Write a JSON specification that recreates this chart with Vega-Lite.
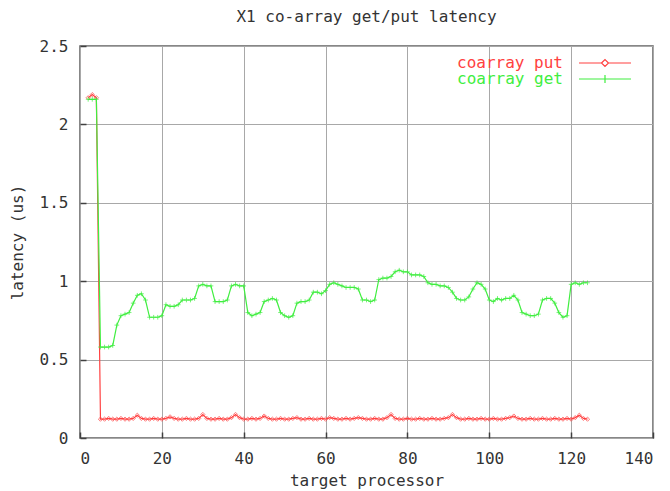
{
  "$schema": "https://vega.github.io/schema/vega-lite/v6.json",
  "width": 573,
  "height": 392,
  "autosize": {"type": "none"},
  "padding": {"left": 80, "top": 46, "right": 17, "bottom": 53},
  "background": "white",
  "title": {
    "text": "X1 co-array get/put latency",
    "font": "DejaVu Sans Mono",
    "fontSize": 16,
    "fontWeight": "normal",
    "color": "#333333",
    "anchor": "middle",
    "offset": 13
  },
  "config": {
    "view": {"stroke": "#606060", "strokeWidth": 1.5},
    "axis": {
      "labelFont": "DejaVu Sans Mono",
      "labelFontSize": 16,
      "labelColor": "#333333",
      "titleFont": "DejaVu Sans Mono",
      "titleFontSize": 16,
      "titleFontWeight": "normal",
      "titleColor": "#333333",
      "domain": false,
      "grid": true,
      "gridColor": "#a8a8a8",
      "gridWidth": 1,
      "tickColor": "#404040",
      "tickWidth": 1.5,
      "tickSize": -6
    }
  },
  "data": {
    "values": [
      {"x": 2, "put": 2.17, "get": 2.16},
      {"x": 3, "put": 2.19, "get": 2.16},
      {"x": 4, "put": 2.17, "get": 2.16},
      {"x": 5, "put": 0.12, "get": 0.58},
      {"x": 6, "put": 0.12, "get": 0.58},
      {"x": 7, "put": 0.125, "get": 0.58},
      {"x": 8, "put": 0.12, "get": 0.59},
      {"x": 9, "put": 0.12, "get": 0.72},
      {"x": 10, "put": 0.125, "get": 0.78},
      {"x": 11, "put": 0.12, "get": 0.79},
      {"x": 12, "put": 0.12, "get": 0.8},
      {"x": 13, "put": 0.125, "get": 0.86},
      {"x": 14, "put": 0.145, "get": 0.91},
      {"x": 15, "put": 0.125, "get": 0.92},
      {"x": 16, "put": 0.12, "get": 0.88},
      {"x": 17, "put": 0.12, "get": 0.77},
      {"x": 18, "put": 0.125, "get": 0.77},
      {"x": 19, "put": 0.12, "get": 0.77},
      {"x": 20, "put": 0.12, "get": 0.78},
      {"x": 21, "put": 0.125, "get": 0.85},
      {"x": 22, "put": 0.135, "get": 0.84},
      {"x": 23, "put": 0.125, "get": 0.84},
      {"x": 24, "put": 0.12, "get": 0.85},
      {"x": 25, "put": 0.12, "get": 0.88},
      {"x": 26, "put": 0.125, "get": 0.88},
      {"x": 27, "put": 0.12, "get": 0.88},
      {"x": 28, "put": 0.12, "get": 0.89},
      {"x": 29, "put": 0.125, "get": 0.97},
      {"x": 30, "put": 0.15, "get": 0.98},
      {"x": 31, "put": 0.125, "get": 0.97},
      {"x": 32, "put": 0.12, "get": 0.97},
      {"x": 33, "put": 0.12, "get": 0.87},
      {"x": 34, "put": 0.125, "get": 0.87},
      {"x": 35, "put": 0.12, "get": 0.87},
      {"x": 36, "put": 0.12, "get": 0.88},
      {"x": 37, "put": 0.13, "get": 0.97},
      {"x": 38, "put": 0.15, "get": 0.98},
      {"x": 39, "put": 0.13, "get": 0.97},
      {"x": 40, "put": 0.12, "get": 0.97},
      {"x": 41, "put": 0.12, "get": 0.8},
      {"x": 42, "put": 0.125, "get": 0.78},
      {"x": 43, "put": 0.12, "get": 0.79},
      {"x": 44, "put": 0.125, "get": 0.8},
      {"x": 45, "put": 0.14, "get": 0.87},
      {"x": 46, "put": 0.125, "get": 0.88},
      {"x": 47, "put": 0.12, "get": 0.89},
      {"x": 48, "put": 0.12, "get": 0.88},
      {"x": 49, "put": 0.125, "get": 0.8},
      {"x": 50, "put": 0.12, "get": 0.78},
      {"x": 51, "put": 0.12, "get": 0.77},
      {"x": 52, "put": 0.125, "get": 0.78},
      {"x": 53, "put": 0.13, "get": 0.86},
      {"x": 54, "put": 0.12, "get": 0.87},
      {"x": 55, "put": 0.12, "get": 0.87},
      {"x": 56, "put": 0.125, "get": 0.88},
      {"x": 57, "put": 0.12, "get": 0.93},
      {"x": 58, "put": 0.12, "get": 0.93},
      {"x": 59, "put": 0.125, "get": 0.92},
      {"x": 60, "put": 0.12, "get": 0.94},
      {"x": 61, "put": 0.13, "get": 0.98},
      {"x": 62, "put": 0.125, "get": 0.99},
      {"x": 63, "put": 0.12, "get": 0.98},
      {"x": 64, "put": 0.12, "get": 0.97},
      {"x": 65, "put": 0.125, "get": 0.96},
      {"x": 66, "put": 0.12, "get": 0.96},
      {"x": 67, "put": 0.125, "get": 0.96},
      {"x": 68, "put": 0.13, "get": 0.95},
      {"x": 69, "put": 0.125, "get": 0.88},
      {"x": 70, "put": 0.12, "get": 0.88},
      {"x": 71, "put": 0.12, "get": 0.87},
      {"x": 72, "put": 0.125, "get": 0.88},
      {"x": 73, "put": 0.12, "get": 1.01},
      {"x": 74, "put": 0.12, "get": 1.02},
      {"x": 75, "put": 0.13, "get": 1.02},
      {"x": 76, "put": 0.15, "get": 1.03},
      {"x": 77, "put": 0.125, "get": 1.06},
      {"x": 78, "put": 0.12, "get": 1.07},
      {"x": 79, "put": 0.12, "get": 1.06},
      {"x": 80, "put": 0.125, "get": 1.06},
      {"x": 81, "put": 0.12, "get": 1.04},
      {"x": 82, "put": 0.12, "get": 1.04},
      {"x": 83, "put": 0.125, "get": 1.04},
      {"x": 84, "put": 0.12, "get": 1.03},
      {"x": 85, "put": 0.12, "get": 0.99},
      {"x": 86, "put": 0.125, "get": 0.98},
      {"x": 87, "put": 0.12, "get": 0.98},
      {"x": 88, "put": 0.12, "get": 0.97},
      {"x": 89, "put": 0.125, "get": 0.97},
      {"x": 90, "put": 0.13, "get": 0.96},
      {"x": 91, "put": 0.15, "get": 0.93},
      {"x": 92, "put": 0.13, "get": 0.89},
      {"x": 93, "put": 0.12, "get": 0.88},
      {"x": 94, "put": 0.12, "get": 0.88},
      {"x": 95, "put": 0.125, "get": 0.9},
      {"x": 96, "put": 0.12, "get": 0.95},
      {"x": 97, "put": 0.12, "get": 0.99},
      {"x": 98, "put": 0.125, "get": 0.98},
      {"x": 99, "put": 0.12, "get": 0.95},
      {"x": 100, "put": 0.12, "get": 0.88},
      {"x": 101, "put": 0.125, "get": 0.87},
      {"x": 102, "put": 0.12, "get": 0.89},
      {"x": 103, "put": 0.12, "get": 0.88},
      {"x": 104, "put": 0.125, "get": 0.89},
      {"x": 105, "put": 0.13, "get": 0.89},
      {"x": 106, "put": 0.14, "get": 0.91},
      {"x": 107, "put": 0.125, "get": 0.88},
      {"x": 108, "put": 0.12, "get": 0.8},
      {"x": 109, "put": 0.12, "get": 0.79},
      {"x": 110, "put": 0.125, "get": 0.78},
      {"x": 111, "put": 0.12, "get": 0.78},
      {"x": 112, "put": 0.12, "get": 0.79},
      {"x": 113, "put": 0.125, "get": 0.88},
      {"x": 114, "put": 0.12, "get": 0.89},
      {"x": 115, "put": 0.12, "get": 0.89},
      {"x": 116, "put": 0.125, "get": 0.86},
      {"x": 117, "put": 0.12, "get": 0.8},
      {"x": 118, "put": 0.12, "get": 0.77},
      {"x": 119, "put": 0.125, "get": 0.78},
      {"x": 120, "put": 0.12, "get": 0.98},
      {"x": 121, "put": 0.13, "get": 0.99},
      {"x": 122, "put": 0.145, "get": 0.98},
      {"x": 123, "put": 0.125, "get": 0.99},
      {"x": 124, "put": 0.12, "get": 0.99}
    ]
  },
  "transform": [{"fold": ["put", "get"], "as": ["series", "latency"]}],
  "encoding": {
    "x": {
      "field": "x",
      "type": "quantitative",
      "scale": {"domain": [0, 140], "nice": false},
      "axis": {
        "title": "target processor",
        "values": [0, 20, 40, 60, 80, 100, 120, 140],
        "labelPadding": 18,
        "titlePadding": 6
      }
    },
    "y": {
      "field": "latency",
      "type": "quantitative",
      "scale": {"domain": [0, 2.5], "nice": false},
      "axis": {
        "title": "latency (us)",
        "values": [0, 0.5, 1, 1.5, 2, 2.5],
        "format": "~g",
        "labelPadding": 18,
        "titlePadding": 14
      }
    },
    "color": {
      "field": "series",
      "type": "nominal",
      "scale": {"domain": ["put", "get"], "range": ["#ff4040", "#40ee40"]},
      "legend": {
        "title": null,
        "orient": "none",
        "legendX": 517,
        "legendY": 9,
        "padding": 0,
        "rowPadding": -3,
        "labelFont": "DejaVu Sans Mono",
        "labelFontSize": 16,
        "labelAlign": "right",
        "labelOffset": -50,
        "labelExpr": "'coarray ' + datum.label",
        "symbolSize": 4,
        "symbolStrokeWidth": 1.2,
        "encode": {
          "labels": {
            "update": {
              "fill": {"signal": "datum.value === 'put' ? '#ff4040' : '#40ee40'"}
            }
          },
          "symbols": {
            "update": {
              "shape": {"signal": "datum.value === 'put' ? 'M-26,0H-3.5M3.5,0H26M-3.5,0L0,-3.5L3.5,0L0,3.5Z' : 'M-26,0H26M0,-4V4'"},
              "fill": {"value": "transparent"},
              "size": {"value": 4}
            }
          }
        }
      }
    }
  },
  "layer": [
    {
      "transform": [{"filter": "datum.series === 'put'"}],
      "mark": {"type": "line", "strokeWidth": 1.2}
    },
    {
      "transform": [{"filter": "datum.series === 'put'"}],
      "mark": {"type": "point", "shape": "diamond", "filled": false, "size": 18, "strokeWidth": 1}
    },
    {
      "transform": [{"filter": "datum.series === 'get'"}],
      "mark": {"type": "line", "strokeWidth": 1.2}
    },
    {
      "transform": [{"filter": "datum.series === 'get'"}],
      "mark": {"type": "point", "shape": "M-1,0H1M0,-1V1", "filled": false, "size": 22, "strokeWidth": 1}
    }
  ]
}
